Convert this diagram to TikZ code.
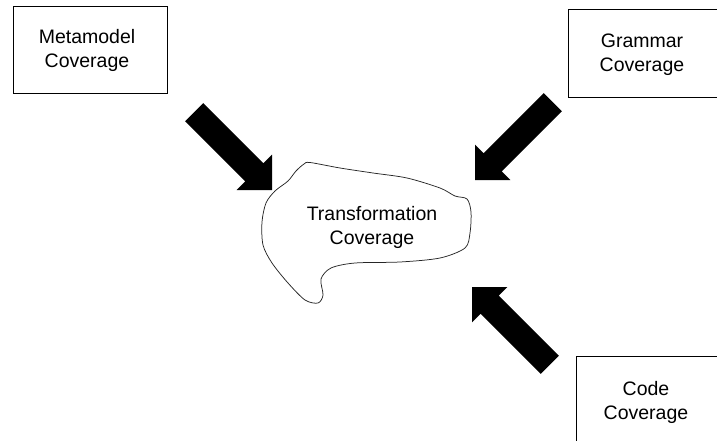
\documentclass[tikz,border=0pt]{standalone}
\usepackage{fontspec}
\setmainfont{Liberation Sans}
\newcommand{\mkblockarrow}[2]{%
  \begin{scope}[shift={(#1)}, rotate=#2]
    \fill[black] (0,0) -- (-25,25) -- (-25,12.75) -- (-110,12.75) -- (-110,-12.75) -- (-25,-12.75) -- (-25,-25) -- cycle;
  \end{scope}}
\begin{document}
\begin{tikzpicture}[x=1pt,y=-1pt,
  lbl/.style={align=center, inner sep=0pt, font=\fontsize{19.5}{24}\selectfont},
  boxline/.style={draw=black, line width=0.8pt},
  cloudline/.style={draw=black!85, line width=0.75pt}]
\useasboundingbox (0,0) rectangle (717,441);
\clip (0,0) rectangle (717,441);
% boxes
\draw[boxline] (13,6) rectangle (167,93);
\node[lbl] (meta) at (87,50.5) {Metamodel\\Coverage};
\draw[boxline] (568,9.5) rectangle (730,97);
\node[lbl] (gram) at (642,55) {Grammar\\Coverage};
\draw[boxline] (576,356) rectangle (730,460);
\node[lbl] (code) at (646,402) {Code\\Coverage};
% cloud
\draw[cloudline] plot[smooth cycle, tension=0.5] coordinates {
  (310,162.5) (340,168) (373,173) (407,178) (440,188) (455,196) (467,199)
  (471,212) (470,233) (465,248) (440,258) (400,262) (355,263) (331,268)
  (321,279) (323,295) (318,303) (305,300) (288,283) (272,263) (263,245)
  (262,222) (266,203) (275,191) (288,181) (296,171) (304,164)};
\node[lbl] (trans) at (372,227.5) {Transformation\\Coverage};
% arrows
\coordinate (tipA) at (272,190);
\coordinate (tipB) at (475,180);
\coordinate (tipC) at (472,287);
\mkblockarrow{tipA}{-45}
\mkblockarrow{tipB}{-135}
\mkblockarrow{tipC}{135}
\end{tikzpicture}
\end{document}
